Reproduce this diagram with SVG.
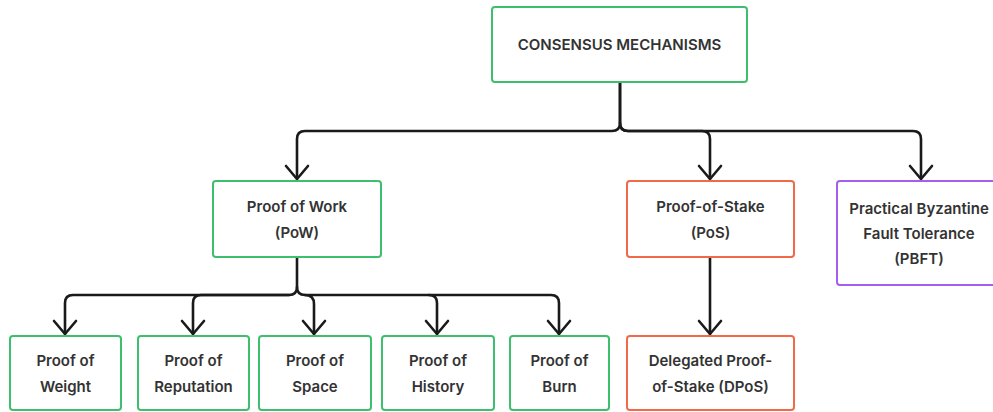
<svg xmlns="http://www.w3.org/2000/svg" width="993" height="412" viewBox="0 0 993 412">
  <defs>
    <style>
      .box { fill: #ffffff; stroke-width: 2; }
      .green { stroke: #3dbf6e; }
      .orange { stroke: #f2694a; }
      .purple { stroke: #a35ef0; }
      .label { font-family: Inter, "Liberation Sans", sans-serif; font-weight: 600; font-size: 15px; fill: #333333; text-anchor: middle; }
      .edge { fill: none; stroke: #1a1a1a; stroke-width: 2.6; stroke-linejoin: round; stroke-linecap: round; marker-end: url(#chevron); }
    </style>
    <marker id="chevron" markerUnits="userSpaceOnUse" markerWidth="30" markerHeight="30" refX="0" refY="0" viewBox="-16 -15 20 30" orient="auto" overflow="visible">
      <path d="M-13,-11 L0,0 L-13,11" fill="none" stroke="#1a1a1a" stroke-width="2.6" stroke-linejoin="round" stroke-linecap="round"/>
    </marker>
  </defs>
  <rect width="993" height="412" fill="#ffffff"/>

  <g id="connectors">
    <path class="edge" d="M620,82 V123 Q620,131 612,131 H305 Q297,131 297,139 V179"/>
    <path class="edge" d="M620,82 V123 Q620,131 628,131 H702 Q710,131 710,139 V179"/>
    <path class="edge" d="M620,123 Q620,131 628,131 H913 Q921,131 921,139 V179"/>
    <path class="edge" d="M297,257 V287 Q297,295 289,295 H73 Q65,295 65,303 V334"/>
    <path class="edge" d="M289,295 H201 Q193,295 193,303 V334"/>
    <path class="edge" d="M297,287 Q297,295 305,295 Q314,295 314,304 V334"/>
    <path class="edge" d="M305,295 H429 Q437,295 437,303 V334"/>
    <path class="edge" d="M429,295 H551 Q559,295 559,303 V334"/>
    <path class="edge" d="M710,257 V334"/>
  </g>

  <g id="consensus">
    <rect class="box green" x="492" y="7" width="255" height="75" rx="3"/>
    <text class="label" x="619.5" y="50" font-size="14">CONSENSUS MECHANISMS</text>
  </g>

  <g id="pow">
    <rect class="box green" x="213" y="181" width="168" height="76" rx="3"/>
    <text class="label" x="297" y="212">Proof of Work</text>
    <text class="label" x="297" y="238">(PoW)</text>
  </g>

  <g id="pos">
    <rect class="box orange" x="627" y="181" width="167" height="76" rx="3"/>
    <text class="label" x="710.5" y="212">Proof-of-Stake</text>
    <text class="label" x="710.5" y="238">(PoS)</text>
  </g>

  <g id="pbft">
    <rect class="box purple" x="837" y="181" width="170" height="104" rx="3"/>
    <text class="label" x="919" y="214">Practical Byzantine</text>
    <text class="label" x="919" y="239">Fault Tolerance</text>
    <text class="label" x="919" y="264">(PBFT)</text>
  </g>

  <g id="weight">
    <rect class="box green" x="10" y="336" width="111" height="74" rx="3"/>
    <text class="label" x="65.5" y="366">Proof of</text>
    <text class="label" x="65.5" y="392">Weight</text>
  </g>

  <g id="reputation">
    <rect class="box green" x="138" y="336" width="111" height="74" rx="3"/>
    <text class="label" x="193.5" y="366">Proof of</text>
    <text class="label" x="193.5" y="392">Reputation</text>
  </g>

  <g id="space">
    <rect class="box green" x="259" y="336" width="112" height="74" rx="3"/>
    <text class="label" x="315" y="366">Proof of</text>
    <text class="label" x="315" y="392">Space</text>
  </g>

  <g id="history">
    <rect class="box green" x="382" y="336" width="112" height="74" rx="3"/>
    <text class="label" x="438" y="366">Proof of</text>
    <text class="label" x="438" y="392">History</text>
  </g>

  <g id="burn">
    <rect class="box green" x="510" y="336" width="99" height="74" rx="3"/>
    <text class="label" x="559.5" y="366">Proof of</text>
    <text class="label" x="559.5" y="392">Burn</text>
  </g>

  <g id="dpos">
    <rect class="box orange" x="627" y="336" width="167" height="74" rx="3"/>
    <text class="label" x="710.5" y="366">Delegated Proof-</text>
    <text class="label" x="710.5" y="392">of-Stake (DPoS)</text>
  </g>
</svg>
